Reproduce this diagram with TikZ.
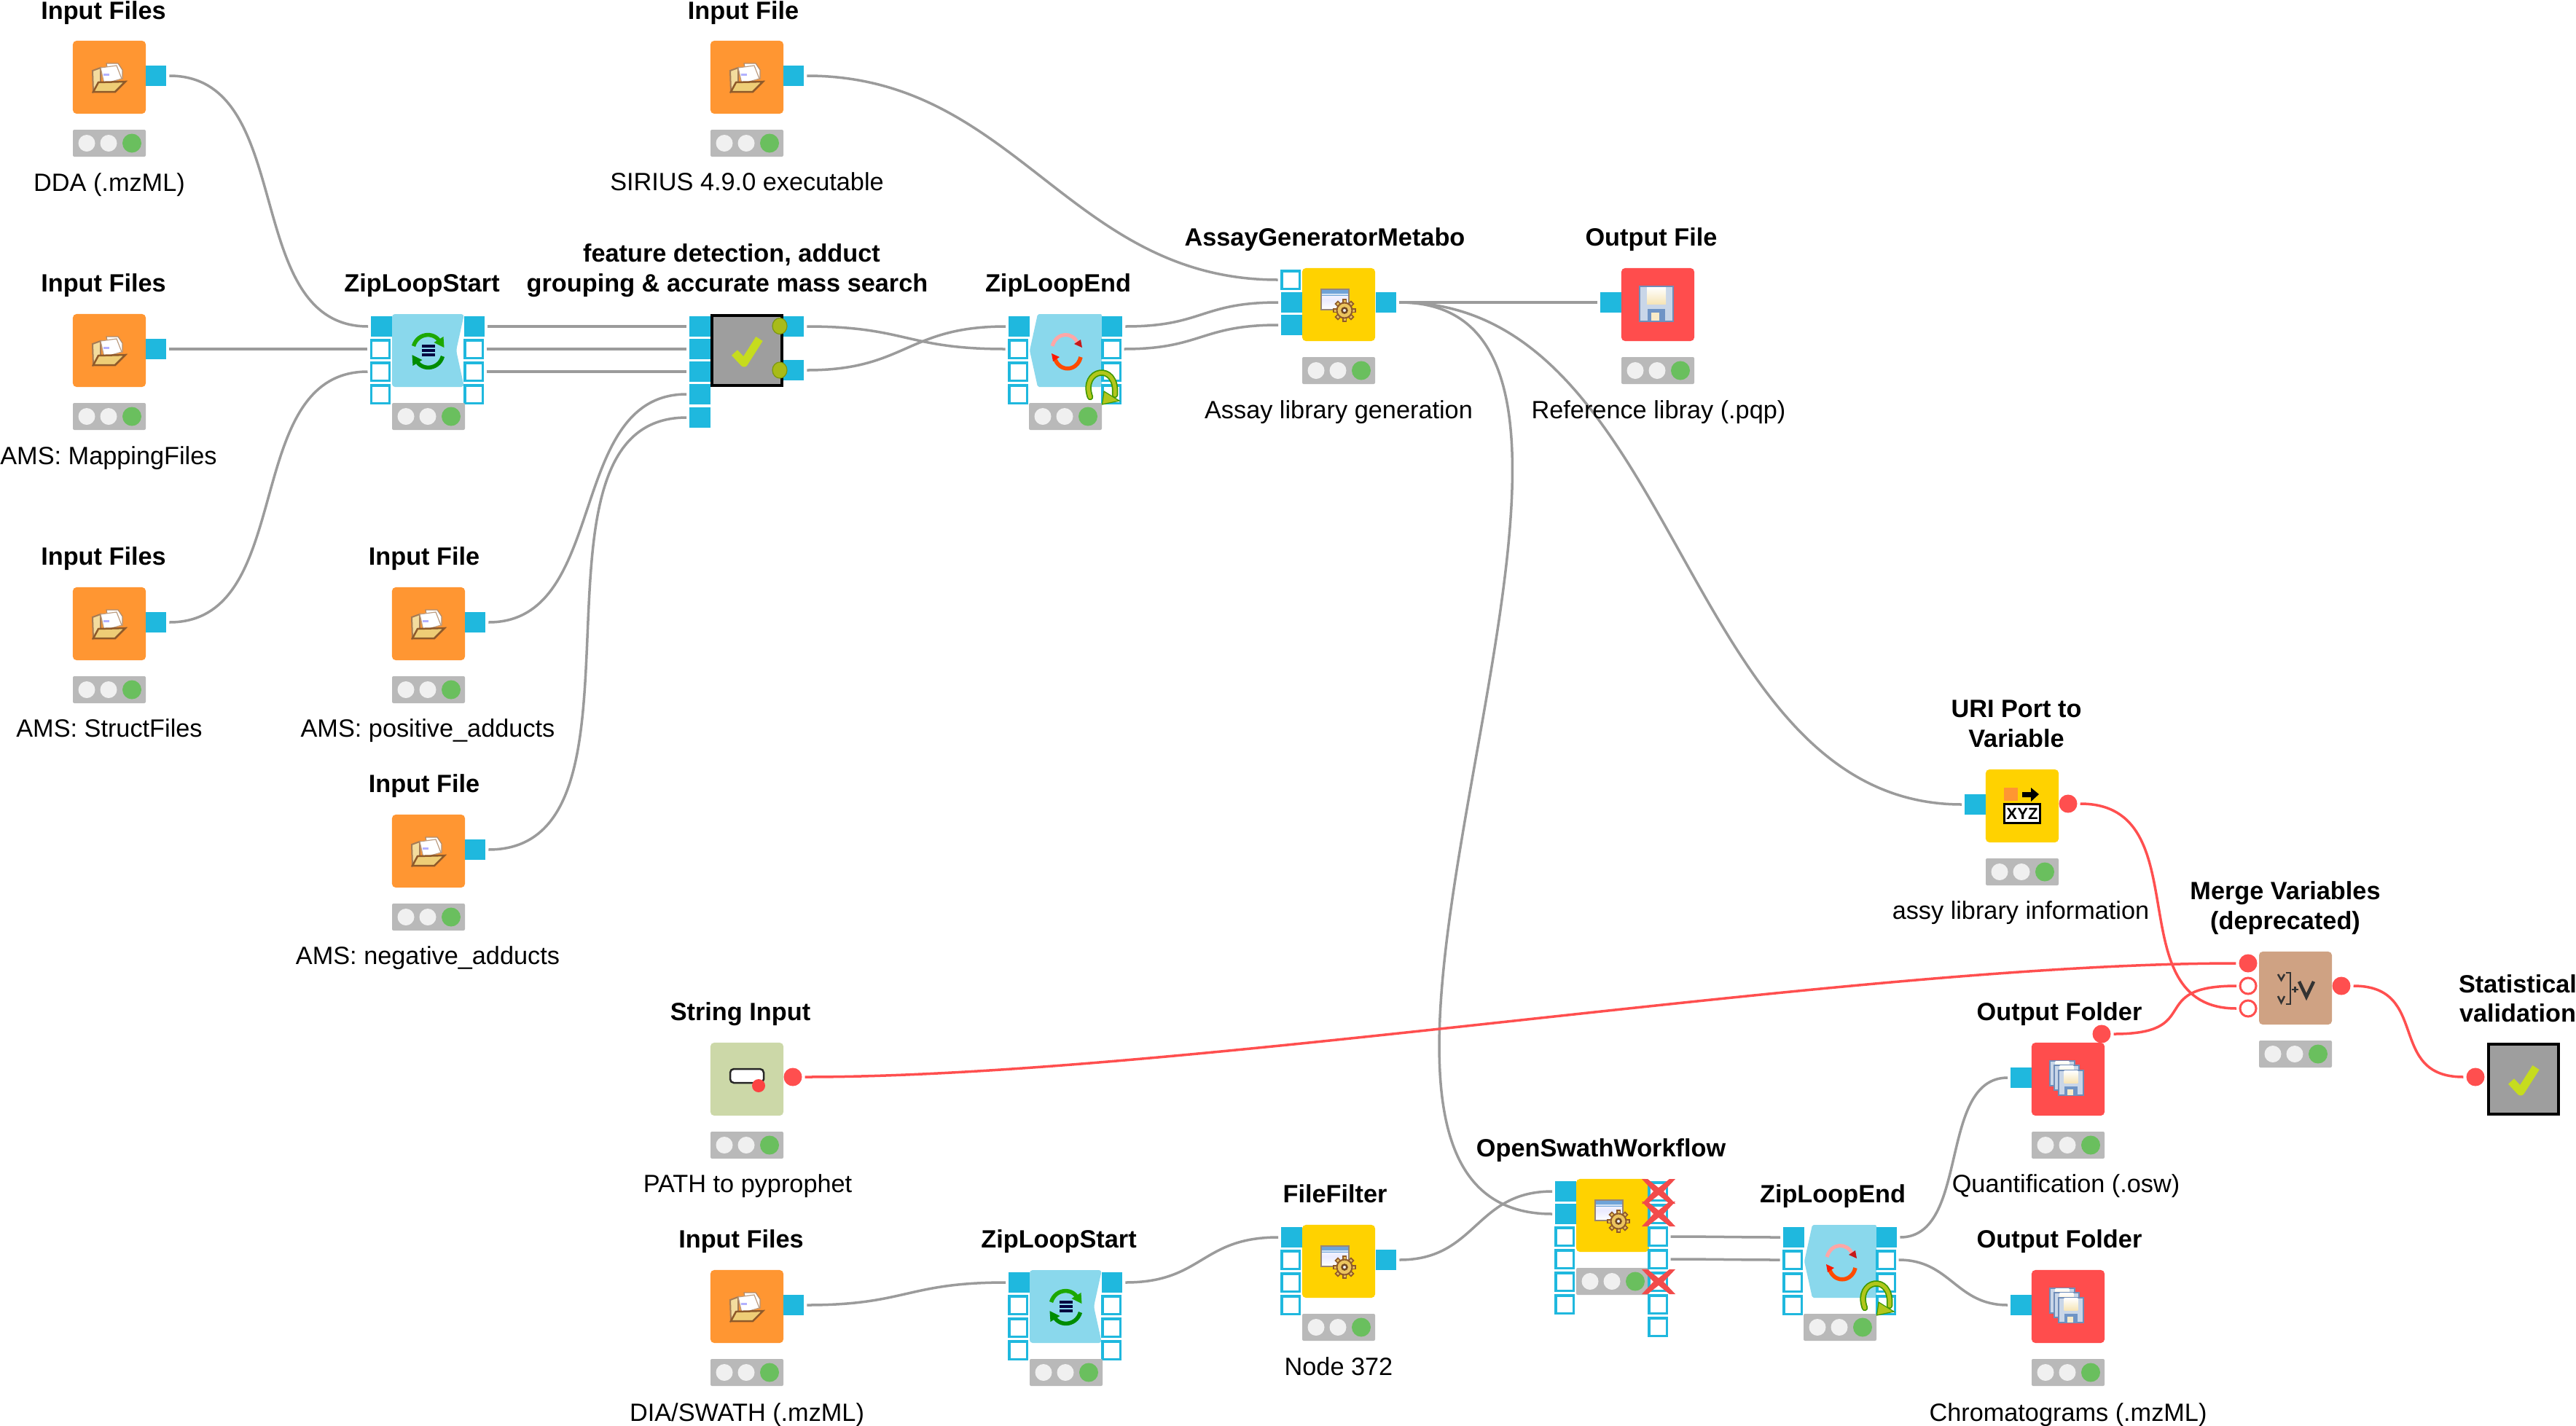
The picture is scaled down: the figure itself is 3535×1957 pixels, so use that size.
\documentclass[tikz,border=0pt]{standalone}
\usepackage{fontspec}
\setmainfont{Liberation Sans}
\definecolor{portblue}{HTML}{1FB8DE}
\definecolor{wiregrey}{HTML}{9B9B9B}
\definecolor{flowred}{HTML}{FF4F4F}
\definecolor{srcorange}{HTML}{FF9632}
\definecolor{mgryellow}{HTML}{FFD200}
\definecolor{sinkred}{HTML}{FF4D4D}
\definecolor{loopblue}{HTML}{8AD8EC}
\definecolor{manitan}{HTML}{CFA283}
\definecolor{stringgreen}{HTML}{CCD8A8}
\definecolor{metagrey}{HTML}{9E9E9E}
\definecolor{checkgreen}{HTML}{C6DC1E}
\definecolor{lampgrey}{HTML}{B9B9B9}
\definecolor{lampoff}{HTML}{F0F0F0}
\definecolor{lampon}{HTML}{6ABF5E}
\definecolor{gearbrown}{HTML}{8F5A2A}
\definecolor{geargold}{HTML}{EBC45E}
\definecolor{diskbody}{HTML}{C9D6E8}
\definecolor{diskedge}{HTML}{6F8DB8}
\definecolor{diskgate}{HTML}{6F94C6}
\definecolor{barblue}{HTML}{6FA3D8}
\tikzset{
  x=0.01cm, y=-0.01cm,
  body/.style={rectangle, rounded corners=0.05cm, minimum width=1cm, minimum height=1cm, inner sep=0pt, fill=#1},
  metabox/.style={rectangle, minimum width=0.96cm, minimum height=0.96cm, inner sep=0pt, draw=black, line width=0.04cm, fill=metagrey},
  portfill/.style={rectangle, minimum width=0.285cm, minimum height=0.285cm, inner sep=0pt, fill=portblue},
  porthollow/.style={rectangle, minimum width=0.245cm, minimum height=0.245cm, inner sep=0pt, draw=portblue, line width=0.035cm, fill=white},
  flowfill/.style={circle, minimum size=0.25cm, inner sep=0pt, fill=flowred},
  flowhollow/.style={circle, minimum size=0.22cm, inner sep=0pt, draw=flowred, line width=0.03cm, fill=white},
  wire/.style={draw=wiregrey, line width=0.035cm, shorten <=0.035cm, shorten >=0.035cm},
  redwire/.style={draw=flowred, line width=0.035cm, shorten <=0.035cm, shorten >=0.035cm},
  caption/.style={anchor=base, inner sep=0pt, align=center, font=\fontsize{9.75}{11.66}\selectfont},
  heading/.style={caption, yshift=-0.02cm, font=\fontsize{9.75}{11.66}\bfseries\selectfont},
}
% Ports on a node whose body starts or ends at x = #2
\newcommand{\inF}[3]{\node[portfill] (#1) at ({#2-14.5},#3) {};}
\newcommand{\inH}[3]{\node[porthollow] (#1) at ({#2-16},#3) {};}
\newcommand{\outF}[3]{\node[portfill] (#1) at ({#2+14},#3) {};}
\newcommand{\outH}[3]{\node[porthollow] (#1) at ({#2+13},#3) {};}
% Status bar under a body with left edge #1 and top edge #2
\newcommand{\lamps}[2]{%
  \fill[lampgrey, rounded corners=0.02cm] (#1,{#2+122}) rectangle ({#1+100},{#2+159});
  \fill[lampoff] ({#1+19},{#2+140.5}) circle (11.5);
  \fill[lampoff] ({#1+49},{#2+140.5}) circle (11.5);
  \fill[lampon] ({#1+81},{#2+140.5}) circle (13);
}
% Folder symbol of a reader node
\newcommand{\foldericon}[2]{\begin{scope}[shift={(#1,#2)}]
  \filldraw[fill=white, draw=gearbrown!70, line width=0.012cm] (-4,-19) -- (12,-19) -- (18,-10) -- (18,2) -- (0,2) -- cycle;
  \filldraw[fill=geargold!60, draw=gearbrown!80, line width=0.02cm] (-23,-9) -- (-12,-13) -- (-12,8) -- (-22,20) -- cycle;
  \filldraw[fill=white, draw=gearbrown!60, line width=0.012cm] (-12,-13) -- (10,-16) -- (17,2) -- (-7,9) -- cycle;
  \fill[blue!30] (-8,-5) rectangle (0,-2);
  \filldraw[fill=geargold!85, draw=gearbrown, line width=0.025cm] (-15,7) -- (22,6) -- (8,20) -- (-22,20) -- cycle;
\end{scope}}
% Dialog window with a gear
\newcommand{\geaicon}[2]{\begin{scope}[shift={(#1,#2)}]
  \filldraw[top color=white, bottom color=white, middle color=blue!8, draw=gearbrown!60!black!60, line width=0.02cm] (-24,-21) rectangle (14,7);
  \fill[barblue] (-23,-20) rectangle (13,-12);
  \fill[white!70!barblue] (-23,-15) rectangle (13,-13);
  \begin{scope}[shift={(8,8)}]
    \foreach \ang in {0,45,...,315} {
      \draw[gearbrown, line width=0.065cm] (\ang:9) -- (\ang:16);
      \draw[geargold, line width=0.03cm] (\ang:9) -- (\ang:14);
    }
    \filldraw[fill=geargold, draw=gearbrown, line width=0.02cm] (0,0) circle (10.5);
    \filldraw[fill=lampoff, draw=gearbrown!80!black, line width=0.025cm] (0,0) circle (3.5);
  \end{scope}
\end{scope}}
% Floppy disk of a writer node
\newcommand{\floppy}[3]{\begin{scope}[shift={(#1,#2)}, scale=#3]
  \filldraw[fill=diskbody, draw=diskedge, line width=0.02cm] (-23,-24) rectangle (23,24);
  \fill[top color=white, bottom color=geargold!45] (-13,-23) rectangle (13,0);
  \fill[diskgate] (-12,7) rectangle (12,24);
  \fill[geargold!35] (-7,12) rectangle (4,23);
\end{scope}}
% Turning arrows of a loop start
\newcommand{\syncicon}[2]{\begin{scope}[shift={(#1,#2)}]
  \draw[green!60!black!85!lime, line width=0.055cm] (-20,-6) .. controls (-14,-26) and (12,-26) .. (17,-9);
  \fill[green!60!black!85!lime] (22,-4) -- (8,-11) -- (21,-19) -- cycle;
  \draw[green!55!black, line width=0.055cm] (20,8) .. controls (14,28) and (-12,28) .. (-17,11);
  \fill[green!55!black] (-22,6) -- (-8,13) -- (-21,21) -- cycle;
  \foreach \rowy in {-6,0,6} \fill[blue!25!black] (-9,{\rowy-1.7}) rectangle (9,{\rowy+1.7});
\end{scope}}
% Turning arrows of a loop end
\newcommand{\loopicon}[2]{\begin{scope}[shift={(#1,#2)}]
  \draw[red!35!white, line width=0.05cm] (-20,-6) .. controls (-14,-26) and (8,-26) .. (15,-10);
  \fill[red!75!black!90] (21,-4) -- (10,-9) -- (19,-15) -- cycle;
  \draw[orange!60!red, line width=0.055cm] (19,9) .. controls (14,30) and (-12,30) .. (-17,9);
  \fill[red!80!orange] (-21,4) -- (-10,9) -- (-19,15) -- cycle;
\end{scope}}
% Return arrow over the lower right corner of a loop end
\newcommand{\returnarrow}[2]{\begin{scope}[shift={(#1,#2)}]
  \draw[green!40!olive!85!black, line width=0.085cm, line cap=round] (-16,15) .. controls (-30,-24) and (22,-34) .. (18,12);
  \draw[checkgreen!90!black, line width=0.05cm, line cap=round] (-16,15) .. controls (-30,-24) and (22,-34) .. (18,12);
  \filldraw[fill=checkgreen!90!black, draw=green!40!olive!85!black, line width=0.012cm] (3,7) -- (24,20) -- (0.5,25) -- cycle;
\end{scope}}
% Green tick of a metanode or a component
\newcommand{\tickicon}[2]{\draw[checkgreen, line width=0.11cm, line join=round] ({#1-17},{#2+3}) -- ({#1-4},{#2+17}) -- ({#1+17},{#2-16});}
% Red cross over an inactive port
\newcommand{\inactive}[2]{\begin{scope}[shift={(#1,#2)}]
  \fill[flowred!95!black] (-23,-17) -- (-15,-17) -- (0,-5) -- (15,-17) -- (23,-17) -- (7,0) -- (23,17) -- (15,17) -- (0,5) -- (-15,17) -- (-23,17) -- (-7,0) -- cycle;
\end{scope}}
% Reader node: name, left edge, top edge, port y
\newcommand{\reader}[4]{%
  \node[body=srcorange] (#1) at ({#2+50},{#3+50}) {};
  \outF{#1-o}{(#2+100)}{#4}
  \lamps{#2}{#3}
  \foldericon{#2+50}{#3+50}
}
\newcommand{\wirelink}[3]{\draw[wire] (#1.east) .. controls +(#3,0) and +(-#3,0) .. (#2.west);}
\newcommand{\redlink}[3]{\draw[redwire] (#1.east) .. controls +(#3,0) and +(-#3,0) .. (#2.west);}
\begin{document}
\begin{tikzpicture}
\useasboundingbox (0,0) rectangle (3535,1957);
\fill[white] (0,0) rectangle (3535,1957);

% ---- reader nodes ----
\reader{dda}{100}{56}{104}
\reader{sirius}{975}{56}{104}
\reader{mapping}{100}{431}{479}
\reader{struct}{100}{806}{854}
\reader{pos}{538}{806}{854}
\reader{neg}{538}{1118}{1166}
\reader{dia}{975}{1743}{1791}

% ---- first zip loop start ----
\fill[loopblue, rounded corners=0.04cm] (538,431) -- (637,431) -- (626,481) -- (637,531) -- (538,531) -- cycle;
\syncicon{587.5}{481}
\inF{zls-i1}{538}{448} \inH{zls-i2}{538}{479} \inH{zls-i3}{538}{510} \inH{zls-i4}{538}{541}
\outF{zls-o1}{637}{448} \outH{zls-o2}{637}{479} \outH{zls-o3}{637}{510} \outH{zls-o4}{637}{541}
\lamps{538}{431}

% ---- feature detection metanode ----
\inF{fd-i1}{975}{448} \inF{fd-i2}{975}{479} \inF{fd-i3}{975}{510} \inF{fd-i4}{975}{541} \inF{fd-i5}{975}{573}
\outF{fd-o1}{1075}{448} \outF{fd-o2}{1075}{508}
\node[metabox] (fd) at (1025,481) {};
\tickicon{1025}{481}
\filldraw[fill=checkgreen!85!black, draw=olive!70!green, line width=0.012cm] (1070,447.5) ellipse (10 and 11);
\filldraw[fill=checkgreen!85!black, draw=olive!70!green, line width=0.012cm] (1070,508) ellipse (10 and 11);

% ---- first zip loop end ----
\fill[loopblue, rounded corners=0.02cm] (1424,431) -- (1512,431) -- (1512,531) -- (1424,531) -- (1413,481) -- cycle;
\loopicon{1464}{481}
\inF{zle-i1}{1413}{448} \inH{zle-i2}{1413}{479} \inH{zle-i3}{1413}{510} \inH{zle-i4}{1413}{541}
\outF{zle-o1}{1512}{448} \outH{zle-o2}{1512}{479} \outH{zle-o3}{1512}{510} \outH{zle-o4}{1512}{541}
\lamps{1412}{431}
\returnarrow{1512}{530}

% ---- assay library generation and its output ----
\node[body=mgryellow] (assay) at (1837,418) {};
\geaicon{1837}{418}
\inH{assay-i1}{1787}{384} \inF{assay-i2}{1787}{415} \inF{assay-i3}{1787}{446}
\outF{assay-o}{1888}{415}
\lamps{1787}{368}

\node[body=sinkred] (pqp) at (2275,418) {};
\floppy{2273}{417}{1}
\inF{pqp-i}{2225}{415}
\lamps{2225}{368}

% ---- URI port to variable ----
\node[body=mgryellow] (uri) at (2775,1106) {};
\fill[srcorange] (2750,1081) rectangle (2769,1099);
\fill[black] (2775,1087) -- (2787,1087) -- (2787,1081) -- (2798,1090) -- (2787,1100) -- (2787,1094) -- (2775,1094) -- cycle;
\node[rectangle, draw=black, line width=0.025cm, fill=white, minimum width=0.49cm, minimum height=0.26cm, inner sep=0pt, font=\fontsize{6.3}{7}\bfseries\selectfont] (xyz) at (2775,1116.5) {XYZ};
\inF{uri-i}{2725}{1104}
\node[flowfill] (uri-o) at (2838,1103) {};
\lamps{2725}{1056}

% ---- merge variables ----
\node[body=manitan] (merge) at (3150,1356) {};
\begin{scope}[draw=black!80, line width=0.025cm]
  \draw (3126,1337) -- (3130.5,1345) -- (3135,1337);
  \draw (3126,1367) -- (3130.5,1376) -- (3135,1367);
  \draw (3137,1335) -- (3143,1335) -- (3143,1378) -- (3137,1378);
  \draw (3145,1358) -- (3154,1358) (3149.5,1354) -- (3149.5,1362);
  \draw[line width=0.045cm] (3155,1347) -- (3165,1368) -- (3175,1347);
\end{scope}
\node[flowfill] (merge-i1) at (3085,1322) {};
\node[flowhollow] (merge-i2) at (3085,1353) {};
\node[flowhollow] (merge-i3) at (3085,1384) {};
\node[flowfill] (merge-o) at (3213,1353) {};
\lamps{3100}{1306}

% ---- statistical validation ----
\node[metabox] (stat) at (3463,1481) {};
\tickicon{3463}{1481}
\node[flowfill] (stat-i) at (3397,1478) {};

% ---- string input ----
\node[body=stringgreen] (string) at (1025,1481) {};
\filldraw[fill=white, draw=black!85, line width=0.025cm, rounded corners=0.05cm] (1002,1467) rectangle (1048,1486);
\fill[red!75!lampoff!70!flowred] (1041,1490) circle (9);
\node[flowfill] (string-o) at (1088,1478) {};
\lamps{975}{1431}

% ---- output folders ----
\node[body=sinkred] (osw) at (2838,1481) {};
\floppy{2830}{1473}{0.72} \floppy{2836}{1479}{0.72} \floppy{2842}{1486}{0.72}
\inF{osw-i}{2788}{1479}
\node[flowfill] (osw-v) at (2884,1419) {};
\lamps{2788}{1431}

\node[body=sinkred] (chrom) at (2838,1793) {};
\floppy{2830}{1785}{0.72} \floppy{2836}{1791}{0.72} \floppy{2842}{1798}{0.72}
\inF{chrom-i}{2788}{1791}
\lamps{2788}{1743}

% ---- second zip loop start ----
\fill[loopblue, rounded corners=0.04cm] (1413,1743) -- (1512,1743) -- (1501,1793) -- (1512,1843) -- (1413,1843) -- cycle;
\syncicon{1462.5}{1793}
\inF{zls2-i1}{1413}{1760} \inH{zls2-i2}{1413}{1791} \inH{zls2-i3}{1413}{1822} \inH{zls2-i4}{1413}{1853}
\outF{zls2-o1}{1512}{1760} \outH{zls2-o2}{1512}{1791} \outH{zls2-o3}{1512}{1822} \outH{zls2-o4}{1512}{1853}
\lamps{1413}{1743}

% ---- file filter ----
\node[body=mgryellow] (ff) at (1837,1731) {};
\geaicon{1837}{1731}
\inF{ff-i1}{1787}{1698} \inH{ff-i2}{1787}{1729} \inH{ff-i3}{1787}{1760} \inH{ff-i4}{1787}{1791}
\outF{ff-o}{1888}{1729}
\lamps{1787}{1681}

% ---- OpenSwath workflow ----
\node[body=mgryellow] (swath) at (2213,1668) {};
\geaicon{2213}{1668}
\lamps{2163}{1618}
\inF{sw-i1}{2163}{1635} \inF{sw-i2}{2163}{1666} \inH{sw-i3}{2163}{1697} \inH{sw-i4}{2163}{1728} \inH{sw-i5}{2163}{1759} \inH{sw-i6}{2163}{1790}
\outH{sw-o1}{2262}{1635} \outH{sw-o2}{2262}{1666} \outH{sw-o3}{2262}{1697} \outH{sw-o4}{2262}{1728} \outH{sw-o5}{2262}{1759} \outH{sw-o6}{2262}{1790} \outH{sw-o7}{2262}{1821}
\inactive{2276}{1635} \inactive{2276}{1666} \inactive{2276}{1759}

% ---- second zip loop end ----
\fill[loopblue, rounded corners=0.02cm] (2487,1681) -- (2575,1681) -- (2575,1781) -- (2487,1781) -- (2476,1731) -- cycle;
\loopicon{2527}{1731}
\inF{zle2-i1}{2476}{1698} \inH{zle2-i2}{2476}{1729} \inH{zle2-i3}{2476}{1760} \inH{zle2-i4}{2476}{1791}
\outF{zle2-o1}{2575}{1698} \outH{zle2-o2}{2575}{1729} \outH{zle2-o3}{2575}{1760} \outH{zle2-o4}{2575}{1791}
\lamps{2475}{1681}
\returnarrow{2575}{1780}

% ---- connections ----
\wirelink{dda-o}{zls-i1}{180}
\wirelink{mapping-o}{zls-i2}{100}
\wirelink{struct-o}{zls-i3}{180}
\wirelink{zls-o1}{fd-i1}{100}
\wirelink{zls-o2}{fd-i2}{100}
\wirelink{zls-o3}{fd-i3}{100}
\wirelink{pos-o}{fd-i4}{170}
\wirelink{neg-o}{fd-i5}{250}
\wirelink{fd-o1}{zle-i2}{140}
\wirelink{fd-o2}{zle-i1}{140}
\wirelink{zle-o1}{assay-i2}{110}
\wirelink{zle-o2}{assay-i3}{110}
\wirelink{sirius-o}{assay-i1}{290}
\wirelink{assay-o}{pqp-i}{100}
\wirelink{assay-o}{uri-i}{390}
\wirelink{assay-o}{sw-i2}{435}
\wirelink{dia-o}{zls2-i1}{140}
\wirelink{zls2-o1}{ff-i1}{110}
\wirelink{ff-o}{sw-i1}{110}
\wirelink{sw-o3}{zle2-i1}{60}
\wirelink{sw-o4}{zle2-i2}{60}
\wirelink{zle2-o1}{osw-i}{100}
\wirelink{zle2-o2}{chrom-i}{75}
\redlink{uri-o}{merge-i3}{170}
\redlink{osw-v}{merge-i2}{130}
\redlink{string-o}{merge-i1}{530}
\redlink{merge-o}{stat-i}{110}

% ---- labels ----
\node[heading] (t1) at (142,24) {Input Files};
\node[caption] (c1) at (150,262) {DDA (.mzML)};
\node[heading] (t2) at (1020,24) {Input File};
\node[caption] (c2) at (1025,261) {SIRIUS 4.9.0 executable};
\node[heading] (t3) at (142,398) {Input Files};
\node[caption] (c3) at (149,637) {AMS: MappingFiles};
\node[heading] (t4) at (142,773) {Input Files};
\node[caption] (c4) at (150,1011) {AMS: StructFiles};
\node[heading] (t5) at (582,773) {Input File};
\node[caption] (c5) at (587,1011) {AMS: positive\_adducts};
\node[heading] (t6) at (582,1085) {Input File};
\node[caption] (c6) at (587,1323) {AMS: negative\_adducts};
\node[heading] (t7) at (579,398) {ZipLoopStart};
\node[heading] (t8) at (1004,357) {feature detection, adduct};
\node[heading] (t8b) at (998,398) {grouping \& accurate mass search};
\node[heading] (t9) at (1452,398) {ZipLoopEnd};
\node[heading] (t10) at (1818,335) {AssayGeneratorMetabo};
\node[caption] (c10) at (1837,574) {Assay library generation};
\node[heading] (t11) at (2266,335) {Output File};
\node[caption] (c11) at (2276,574) {Reference libray (.pqp)};
\node[heading] (t12) at (2767,982) {URI Port to};
\node[heading] (t12b) at (2767,1023) {Variable};
\node[caption] (c12) at (2773,1261) {assy library information};
\node[heading] (t13) at (3136,1232) {Merge Variables};
\node[heading] (t13b) at (3136,1273) {(deprecated)};
\node[heading] (t14) at (3455,1360) {Statistical};
\node[heading] (t14b) at (3455,1400) {validation};
\node[heading] (t15) at (2826,1398) {Output Folder};
\node[caption] (c15) at (2835,1636) {Quantification (.osw)};
\node[heading] (t16) at (2826,1710) {Output Folder};
\node[caption] (c16) at (2838,1950) {Chromatograms (.mzML)};
\node[heading] (t17) at (2197,1585) {OpenSwathWorkflow};
\node[heading] (t18) at (2515,1648) {ZipLoopEnd};
\node[heading] (t19) at (1832,1648) {FileFilter};
\node[caption] (c19) at (1837,1887) {Node 372};
\node[heading] (t20) at (1453,1710) {ZipLoopStart};
\node[heading] (t21) at (1017,1710) {Input Files};
\node[caption] (c21) at (1025,1950) {DIA/SWATH (.mzML)};
\node[heading] (t22) at (1016,1398) {String Input};
\node[caption] (c22) at (1026,1636) {PATH to pyprophet};
\end{tikzpicture}
\end{document}
